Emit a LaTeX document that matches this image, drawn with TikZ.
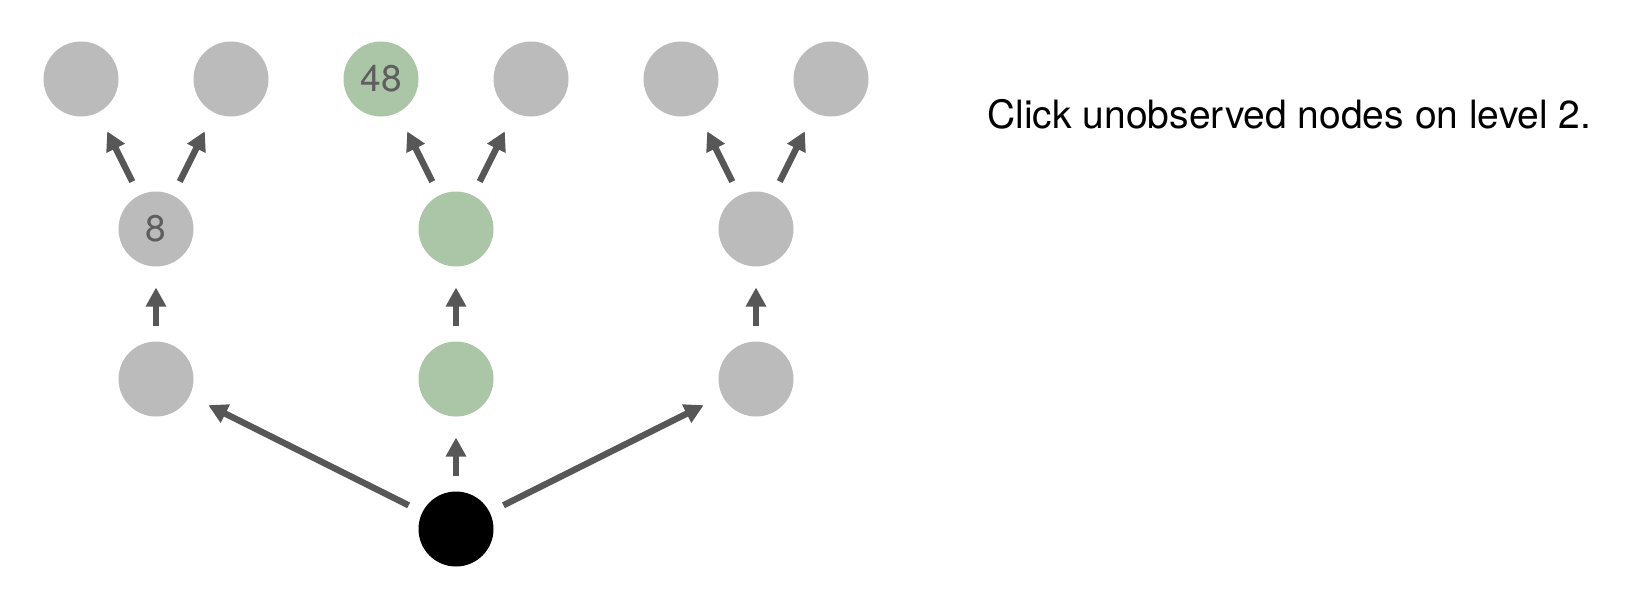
\documentclass[tikz,border=0pt]{standalone}
\usepackage{fontspec}
\setmainfont{TeX Gyre Heros}
\usetikzlibrary{arrows.meta}
\definecolor{nodegray}{HTML}{BBBBBB}
\definecolor{nodegreen}{HTML}{ABC5A7}
\definecolor{arrowgray}{HTML}{575757}
\definecolor{labelgray}{HTML}{5E5E5E}
\begin{document}
\begin{tikzpicture}[x=0.5pt,y=-0.5pt,
  dot/.style={circle,minimum size=37.5pt,inner sep=0pt,outer sep=0pt,
    font=\fontsize{18.5}{18.5}\selectfont,text=labelgray},
  unobs/.style={dot,fill=nodegray},
  obs/.style={dot,fill=nodegreen},
  rootdot/.style={dot,fill=black},
  edge/.style={draw=arrowgray,line width=3.15pt,
    -{Triangle[length=9.5pt,width=9.7pt]},
    shorten <=7.75pt,shorten >=10.5pt},
]
\useasboundingbox (0,0) rectangle (1638,594);
% root
\node[rootdot] (r) at (456,529) {};
% level 1
\node[unobs] (a1) at (156,379) {};
\node[obs]   (b1) at (456,379) {};
\node[unobs] (c1) at (756,379) {};
% level 2
\node[unobs] (a2) at (156,229) {8};
\node[obs]   (b2) at (456,229) {};
\node[unobs] (c2) at (756,229) {};
% level 3
\node[unobs] (a3l) at (81,79) {};
\node[unobs] (a3r) at (231,79) {};
\node[obs]   (b3l) at (381,79) {48};
\node[unobs] (b3r) at (531,79) {};
\node[unobs] (c3l) at (681,79) {};
\node[unobs] (c3r) at (831,79) {};
% edges
\draw[edge] (r) -- (a1);
\draw[edge] (r) -- (b1);
\draw[edge] (r) -- (c1);
\draw[edge] (a1) -- (a2);
\draw[edge] (b1) -- (b2);
\draw[edge] (c1) -- (c2);
\draw[edge] (a2) -- (a3l);
\draw[edge] (a2) -- (a3r);
\draw[edge] (b2) -- (b3l);
\draw[edge] (b2) -- (b3r);
\draw[edge] (c2) -- (c3l);
\draw[edge] (c2) -- (c3r);
% instruction
\node[anchor=base west,inner sep=0pt,font=\fontsize{19.5}{24}\selectfont] (instr)
  at (987,128.7) {Click unobserved nodes on level 2.};
\end{tikzpicture}
\end{document}
